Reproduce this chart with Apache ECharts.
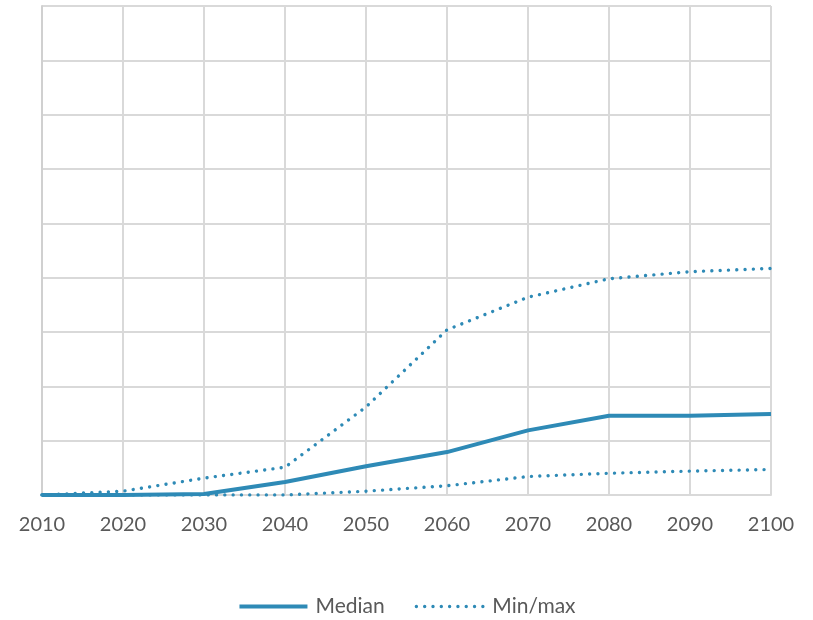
<!DOCTYPE html>
<html>
<head>
<meta charset="utf-8">
<script src="https://cdn.jsdelivr.net/npm/echarts@6/dist/echarts.min.js"></script>
<style>html,body{margin:0;padding:0;background:#fff}#c{width:813px;height:620px}</style>
</head>
<body>
<div id="c"></div>
<script>
const years = [2010, 2020, 2030, 2040, 2050, 2060, 2070, 2080, 2090, 2100];
const median = [0, 0, 0.02, 0.24, 0.53, 0.79, 1.19, 1.46, 1.46, 1.49];
const maxVals = [0, 0.07, 0.31, 0.51, 1.62, 3.04, 3.64, 3.98, 4.11, 4.17];
const minVals = [0, 0, 0, 0, 0.07, 0.17, 0.34, 0.40, 0.44, 0.47];

const color = '#2E8AB6';
const pair = a => years.map((y, i) => [y, a[i]]);
const dotted = { color: color, width: 3.4, type: [0.01, 8.3], cap: 'round' };

const chart = echarts.init(document.getElementById('c'));
chart.setOption({
  animation: false,
  textStyle: { fontFamily: 'Lato' },
  grid: { left: 42, right: 42, top: 6, bottom: 125 },
  xAxis: {
    type: 'value', min: 2010, max: 2100, interval: 10,
    axisLine: { show: true, lineStyle: { color: '#d9d9d9', width: 2 } },
    axisTick: { show: false },
    axisLabel: { color: '#595959', fontSize: 20, margin: 20, formatter: v => String(v) },
    splitLine: { show: true, lineStyle: { color: '#d9d9d9', width: 2 } }
  },
  yAxis: {
    type: 'value', min: 0, max: 9, interval: 1,
    axisLine: { show: true, lineStyle: { color: '#d0d0d0', width: 2 } },
    axisTick: { show: false },
    axisLabel: { show: false },
    splitLine: { show: true, lineStyle: { color: '#d9d9d9', width: 2 } }
  },
  legend: {
    bottom: -2, left: 'center', itemWidth: 68, itemHeight: 12, itemGap: 30,
    textStyle: { color: '#595959', fontSize: 21, padding: [0, 0, 0, 3] },
    itemStyle: { opacity: 0 },
    data: [
      { name: 'Median', lineStyle: { color: color, width: 4 } },
      { name: 'Min/max', lineStyle: { color: color, width: 3.4, type: [0.01, 8.3], cap: 'round' } }
    ]
  },
  series: [
    { name: 'Median', type: 'line', data: pair(median), showSymbol: false, symbol: 'none',
      lineStyle: { color: color, width: 4 }, itemStyle: { color: color } },
    { name: 'Min/max', type: 'line', data: pair(maxVals), showSymbol: false, symbol: 'none',
      lineStyle: dotted, itemStyle: { color: color } },
    { name: 'Min/max', type: 'line', data: pair(minVals), showSymbol: false, symbol: 'none',
      lineStyle: dotted, itemStyle: { color: color } }
  ]
});
</script>
</body>
</html>
